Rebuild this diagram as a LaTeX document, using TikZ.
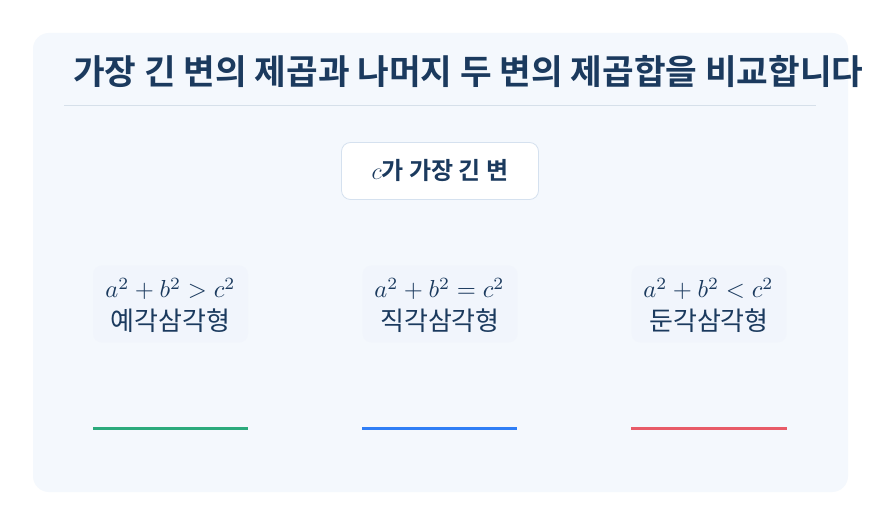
\RequirePackage{fix-cm}
\documentclass[tikz,border=0pt]{standalone}
\usepackage{fontspec}
\usepackage{graphicx}
\setmainfont{Noto Sans CJK KR}
\newfontfamily\krbold{Noto Sans CJK KR Bold}
\definecolor{panelbg}{HTML}{F4F8FD}
\definecolor{cardbg}{HTML}{F1F5FC}
\definecolor{navy}{HTML}{1B3A5E}
\definecolor{rulec}{HTML}{D6E0EA}
\definecolor{boxline}{HTML}{D5E1EF}
\definecolor{cgreen}{HTML}{2BAA7C}
\definecolor{cblue}{HTML}{2F7EF6}
\definecolor{cred}{HTML}{E85B68}
\newcommand{\eqline}[1]{\resizebox{130pt}{!}{$#1$}}
\tikzset{
  panel/.style={fill=panelbg, draw=none, rounded corners=16pt},
  titletext/.style={font=\krbold\fontsize{34.4}{40}\selectfont, text=navy, inner sep=0pt, anchor=west},
  keybox/.style={fill=white, draw=boxline, line width=0.8pt, rounded corners=9pt, minimum width=197pt, minimum height=57pt, inner sep=0pt, font=\krbold\fontsize{24}{28}\selectfont, text=navy},
  card/.style={fill=cardbg, draw=none, rounded corners=9pt, minimum width=155pt, minimum height=77pt, inner sep=0pt},
  mathline/.style={text=navy, inner sep=0pt},
  krline/.style={font=\fontsize{26}{30}\selectfont, text=navy, inner sep=0pt},
  bar/.style={line width=3pt},
}
\begin{document}
\begin{tikzpicture}[x=1pt,y=-1pt]
\useasboundingbox (0,0) rectangle (881,526);
\fill[white] (0,0) rectangle (881,526);
\path[panel] (33,33) rectangle (848,492);
\node[titletext] (title) at (73,72) {가장 긴 변의 제곱과 나머지 두 변의 제곱합을 비교합니다};
\coordinate (rl) at (64,105);
\coordinate (rr) at (816,105);
\draw[rulec, line width=0.8pt] (rl) -- (rr);
\node[keybox] (key) at (440,171) {$c$가 가장 긴 변};

\node[card] (c1) at (170.5,304) {};
\node[card] (c2) at (440,304) {};
\node[card] (c3) at (709,304) {};

\node[mathline] (m1) at (170.5,289) {\eqline{a^2+b^2>c^2}};
\node[krline] (k1) at (170.5,321) {예각삼각형};
\node[mathline] (m2) at (439.5,289) {\eqline{a^2+b^2=c^2}};
\node[krline] (k2) at (440,321) {직각삼각형};
\node[mathline] (m3) at (708.5,289) {\eqline{a^2+b^2<c^2}};
\node[krline] (k3) at (709,321) {둔각삼각형};

\coordinate (b1l) at (93,429); \coordinate (b1r) at (248,429);
\coordinate (b2l) at (362,429); \coordinate (b2r) at (517,429);
\coordinate (b3l) at (631,429); \coordinate (b3r) at (787,429);
\draw[bar, cgreen] (b1l) -- (b1r);
\draw[bar, cblue] (b2l) -- (b2r);
\draw[bar, cred] (b3l) -- (b3r);
\end{tikzpicture}
\end{document}
